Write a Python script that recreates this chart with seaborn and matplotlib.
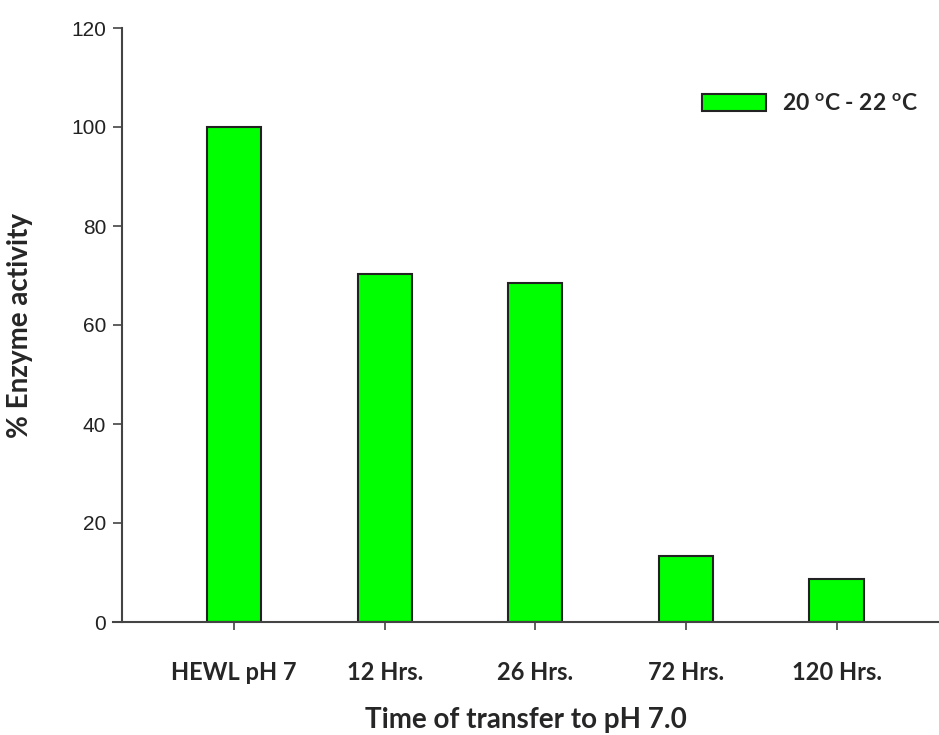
import matplotlib
matplotlib.use("Agg")
import matplotlib.pyplot as plt
import seaborn as sns
import pandas as pd

categories = ["HEWL pH 7", "12 Hrs.", "26 Hrs.", "72 Hrs.", "120 Hrs."]
activity = [100, 70.4, 68.4, 13.4, 8.7]
series_label = "20 $^{\\mathbf{o}}$C - 22 $^{\\mathbf{o}}$C"
y_ticks = [0, 20, 40, 60, 80, 100, 120]

sns.set_style("white")
plt.rcParams["mathtext.fontset"] = "custom"
plt.rcParams["mathtext.bf"] = "Lato:bold"
plt.rcParams["mathtext.rm"] = "Lato:bold"

df = pd.DataFrame({"cat": categories, "val": activity})

fig = plt.figure(figsize=(9.39, 7.35), dpi=100)
ax = fig.add_axes([113 / 939, 1 - 622 / 735, 1 - 113 / 939, (622 - 28) / 735])

sns.barplot(data=df, x="cat", y="val", color="#00ff00", saturation=1,
            edgecolor="#222222", linewidth=1.5, width=0.36, ax=ax,
            label=series_label)

for s in ["top", "right"]:
    ax.spines[s].set_visible(False)
ax.spines["left"].set_position(("data", -0.744))
for s in ["left", "bottom"]:
    ax.spines[s].set_color("#444444")
    ax.spines[s].set_linewidth(1.5)

ax.set_xlim(-0.804, 4.68)
ax.set_ylim(0, 120)
ax.set_yticks(y_ticks)
ax.set_yticklabels([str(t) for t in y_ticks], fontsize=15,
                   family="Liberation Sans", color="#222222")
ax.set_xticks(range(len(categories)))
ax.set_xticklabels(categories, fontsize=17, family="Lato", fontweight="bold")

ax.tick_params(axis="y", direction="out", length=6.5, width=1.2, color="#444444", pad=5, left=True)
ax.tick_params(axis="x", direction="out", length=6, width=1.2, color="#444444", pad=22, bottom=True)

ax.set_xlabel("Time of transfer to pH 7.0", fontsize=20, family="Lato",
              fontweight="bold")
ax.xaxis.set_label_coords(0.5, (622 - 720) / 594)
ax.xaxis.label.set_va("center")
ax.set_ylabel("% Enzyme activity", fontsize=20, family="Lato",
              fontweight="bold")
ax.yaxis.set_label_coords((20 - 113) / 826, 0.5)
ax.yaxis.label.set_ha("center")
ax.yaxis.label.set_va("center")

leg = ax.legend(loc="upper right", bbox_to_anchor=(1.0, 0.925), frameon=False,
                prop={"family": "Lato", "weight": "bold", "size": 16.5},
                handlelength=2.8, handleheight=0.8, handletextpad=0.7)

fig.savefig("out.png", dpi=100)
